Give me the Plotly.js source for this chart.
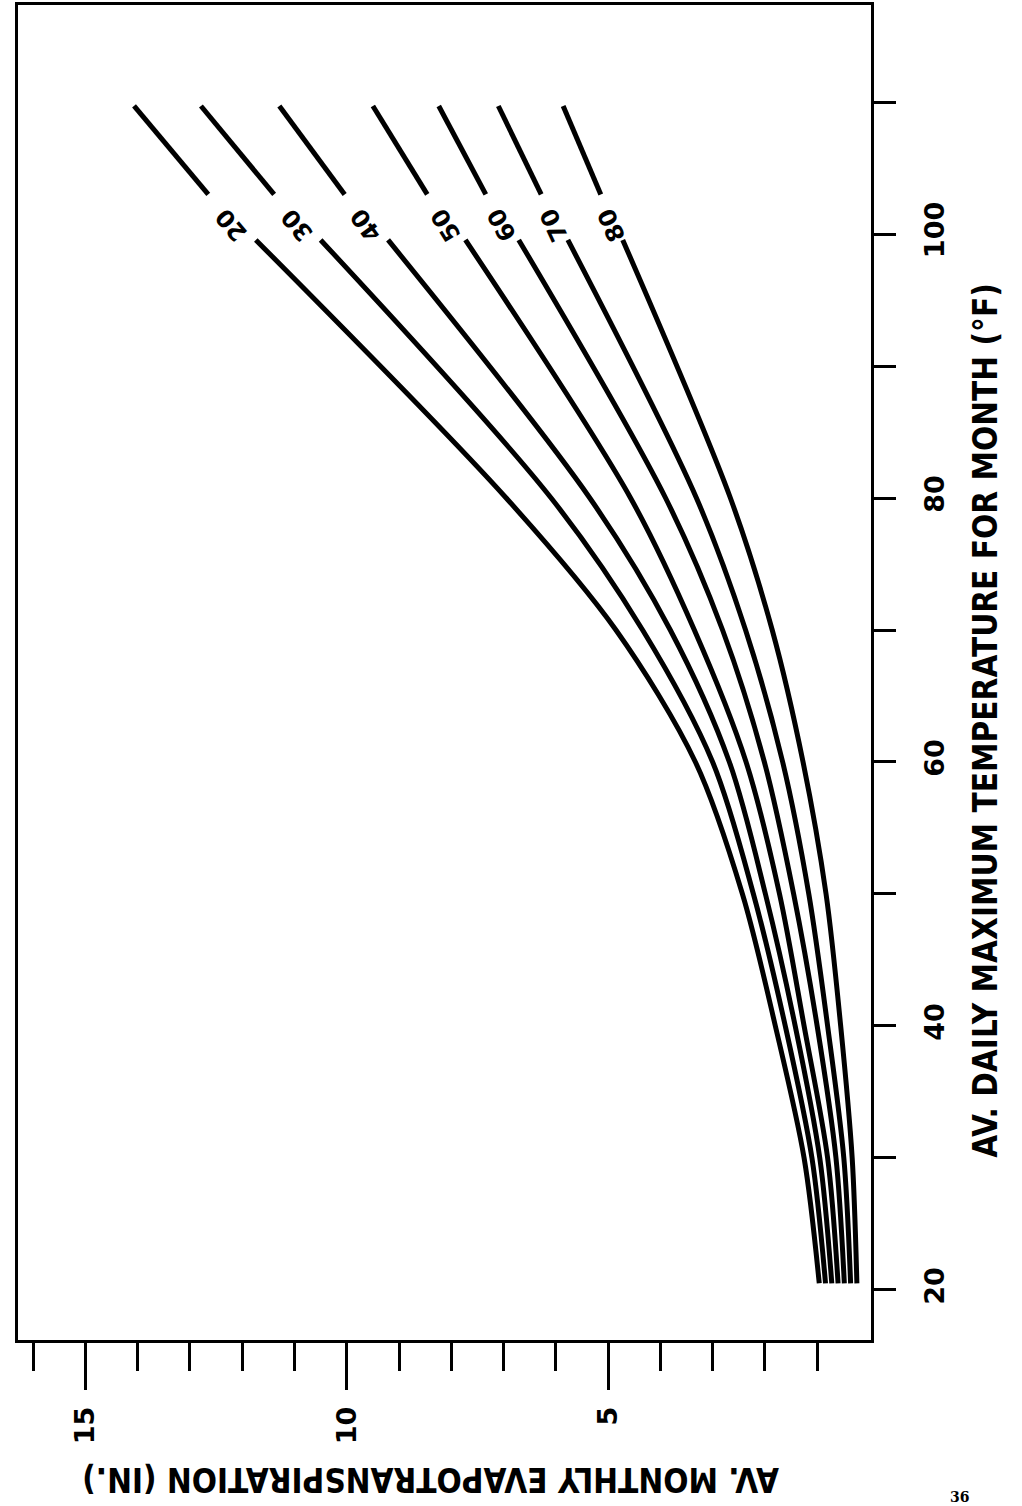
<!DOCTYPE html>
<html>
<head>
<meta charset="utf-8">
<script src="https://cdn.plot.ly/plotly-3.0.1.min.js"></script>
<style>html,body{margin:0;padding:0;background:#fff;}#chart{width:1022px;height:1506px;}</style>
</head>
<body>
<div id="chart"></div>
<script>
// Relative humidity curve labels
const rhLabels = ['20', '30', '40', '50', '60', '70', '80'];
// Av. daily maximum temperature (°F) at which the curves were read
const tempPts = [20.5, 30, 40, 50, 60, 70, 80, 99.55, 103, 109.7];
// Av. monthly evapotranspiration (in.) for each curve
const et20 = [0.96, 1.25, 1.80, 2.43, 3.33, 4.85, 6.95, 11.74, 12.65, 14.07];
const et30 = [0.84, 1.10, 1.61, 2.22, 3.00, 4.34, 6.09, 10.50, 11.39, 12.79];
const et40 = [0.72, 0.95, 1.42, 1.99, 2.68, 3.81, 5.35, 9.21, 10.04, 11.29];
const et50 = [0.60, 0.80, 1.25, 1.72, 2.36, 3.35, 4.57, 7.73, 8.46, 9.50];
const et60 = [0.48, 0.64, 1.00, 1.45, 2.01, 2.81, 3.90, 6.71, 7.34, 8.24];
const et70 = [0.36, 0.49, 0.80, 1.16, 1.66, 2.37, 3.31, 5.77, 6.28, 7.10];
const et80 = [0.24, 0.33, 0.55, 0.83, 1.27, 1.86, 2.66, 4.72, 5.14, 5.86];
// Axis ticks
const etMajorTicks = [5, 10, 15];
const etMinorTicks = [1, 2, 3, 4, 6, 7, 8, 9, 11, 12, 13, 14, 16];
const tempMajorTicks = [20, 40, 60, 80, 100];
const tempMinorTicks = [30, 50, 70, 90, 110];
const xTitle = 'AV. MONTHLY EVAPOTRANSPIRATION (IN.)';
const yTitle = 'AV. DAILY MAXIMUM TEMPERATURE FOR MONTH (°F)';
const pageNumber = '36';

const series = [et20, et30, et40, et50, et60, et70, et80];
const labelAngles = [-130, -130, -126, -122, -119, -115, -114];
const gapIndex = 8; // label gap between the 8th and 9th reading

const traces = series.map(vals => ({
  type: 'scatter',
  mode: 'lines',
  x: vals.slice(0, gapIndex).concat([null], vals.slice(gapIndex)),
  y: tempPts.slice(0, gapIndex).concat([null], tempPts.slice(gapIndex)),
  connectgaps: false,
  line: {color: '#000', width: 5, shape: 'spline', smoothing: 0.9},
  hoverinfo: 'skip',
  showlegend: false
}));

const boldFont = {family: 'DejaVu Sans, Liberation Sans, sans-serif', size: 27, color: '#000', weight: 'bold'};
const titleFont = {family: 'DejaVu Sans Condensed, DejaVu Sans, sans-serif', size: 33, color: '#000', weight: 'bold'};

const annotations = series.map((vals, i) => ({
  xref: 'x', yref: 'y',
  x: (vals[gapIndex - 1] + vals[gapIndex]) / 2,
  y: (tempPts[gapIndex - 1] + tempPts[gapIndex]) / 2,
  yshift: -8,
  text: rhLabels[i],
  showarrow: false,
  textangle: labelAngles[i],
  font: {family: 'DejaVu Sans, sans-serif', size: 24, color: '#000', weight: 'bold'}
}));

annotations.push({
  xref: 'paper', yref: 'paper', x: 0.483, y: -0.104,
  xanchor: 'center', yanchor: 'middle',
  text: xTitle, showarrow: false, textangle: 180, font: titleFont
});
annotations.push({
  xref: 'paper', yref: 'paper', x: 1.134, y: 0.464,
  xanchor: 'center', yanchor: 'middle',
  text: yTitle, showarrow: false, textangle: -90, font: titleFont
});
annotations.push({
  xref: 'paper', yref: 'paper', x: 1.104, y: -0.1176,
  xanchor: 'center', yanchor: 'middle',
  text: pageNumber, showarrow: false,
  font: {family: 'DejaVu Serif, Liberation Serif, serif', size: 14, color: '#000', weight: 'bold'}
});

const layout = {
  width: 1022, height: 1506,
  margin: {l: 18, r: 151, t: 5, b: 166, pad: 0},
  paper_bgcolor: '#fff', plot_bgcolor: '#fff',
  showlegend: false,
  xaxis: {
    range: [16.29, -0.03],
    showgrid: false, zeroline: false,
    showline: true, mirror: true, linewidth: 3, linecolor: '#000',
    ticks: 'outside', tickmode: 'array', tickvals: etMajorTicks,
    ticktext: etMajorTicks.map(String),
    ticklen: 47, tickwidth: 3, tickcolor: '#000',
    tickangle: -90, tickfont: boldFont, ticklabelstandoff: 6,
    minor: {tickmode: 'array', tickvals: etMinorTicks, ticks: 'outside', ticklen: 28, tickwidth: 3, tickcolor: '#000', showgrid: false}
  },
  yaxis: {
    side: 'right',
    range: [16.21, 117.35],
    showgrid: false, zeroline: false,
    showline: true, mirror: true, linewidth: 3, linecolor: '#000',
    ticks: 'outside', tickmode: 'array', tickvals: tempMajorTicks,
    ticktext: tempMajorTicks.map(String),
    ticklen: 22, tickwidth: 3, tickcolor: '#000',
    tickangle: -90, tickfont: boldFont, ticklabelstandoff: 16,
    minor: {tickmode: 'array', tickvals: tempMinorTicks, ticks: 'outside', ticklen: 22, tickwidth: 3, tickcolor: '#000', showgrid: false}
  },
  annotations: annotations
};

Plotly.newPlot('chart', traces, layout, {staticPlot: true, displayModeBar: false});
</script>
</body>
</html>
